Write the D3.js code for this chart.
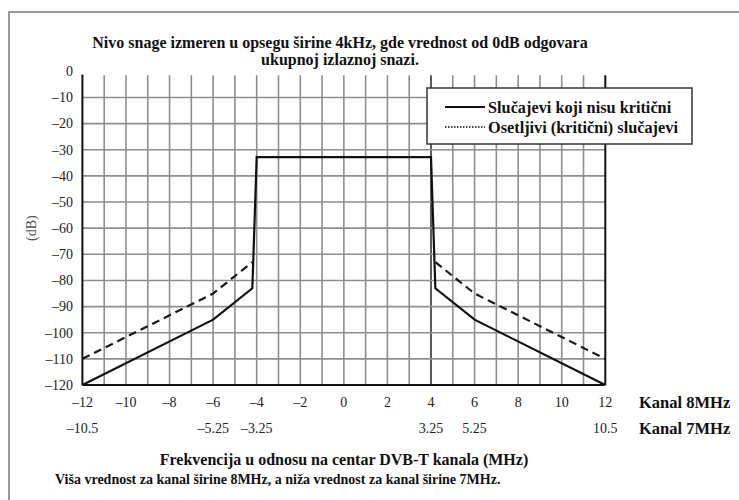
<!DOCTYPE html>
<html><head><meta charset="utf-8">
<script src="https://cdn.jsdelivr.net/npm/d3@7/dist/d3.min.js"></script>
<style>
html,body{margin:0;padding:0;background:#fff;}
svg{display:block;}
text{font-family:"Liberation Serif","Times New Roman",serif;}
</style></head>
<body><svg id="c" width="739" height="500"></svg>
<script>
// ---- data ----
const titleLines = ["Nivo snage izmeren u opsegu širine 4kHz, gde vrednost od 0dB odgovara", "ukupnoj izlaznoj snazi."];
const yTicks = [0,-10,-20,-30,-40,-50,-60,-70,-80,-90,-100,-110,-120];
const xTicks8 = [-12,-10,-8,-6,-4,-2,0,2,4,6,8,10,12];
const xTicks7Pos = [-12,-6,-4,4,6,12];
const xTicks7Lab = ["\u201310.5","\u20135.25","\u20133.25","3.25","5.25","10.5"];
const nonCriticalX = [-12,-6,-4.2,-4,4,4.2,6,12];
const nonCriticalY = [-120,-95,-83,-32.8,-32.8,-83,-95,-120];
const criticalLeftX = [-12,-6,-4.2];
const criticalLeftY = [-110,-85,-73];
const criticalRightX = [4.2,6,12];
const criticalRightY = [-73,-85,-110];
const legendLabels = ["Slučajevi koji nisu kritični","Osetljivi (kritični) slučajevi"];
const channelLabels = ["Kanal 8MHz","Kanal 7MHz"];
const xTitle = "Frekvencija u odnosu na centar DVB-T kanala (MHz)";
const footnote = "Viša vrednost za kanal širine 8MHz, a niža vrednost za kanal širine 7MHz.";
const yTitle = "(dB)";

// ---- drawing ----
const svg = d3.select("#c");
const x = d3.scaleLinear().domain([-12,12]).range([82.4,605.3]);
const y = d3.scaleLinear().domain([0,-120]).range([71.3,385]);

// frame
svg.append("rect").attr("x",9).attr("y",12).attr("width",760).attr("height",520)
  .attr("fill","none").attr("stroke","#777").attr("stroke-width",1.5);

// title
svg.selectAll("text.title").data(titleLines).enter().append("text")
  .attr("x",340).attr("y",(d,i)=>48+i*17).attr("text-anchor","middle")
  .attr("font-size",16).attr("font-weight","bold").attr("fill","#111").text(d=>d);

const gridTop = y(-1.5);
// vertical grid
const vGrid = d3.range(-11,12);
svg.append("g").selectAll("line").data(vGrid).enter().append("line")
  .attr("x1",d=>x(d)).attr("x2",d=>x(d)).attr("y1",gridTop).attr("y2",y(-120))
  .attr("stroke",d=>d===4?"#333":"#8e8e8e").attr("stroke-width",1.6);
// horizontal grid
svg.append("g").selectAll("line").data(yTicks.filter(v=>v<0&&v>-120)).enter().append("line")
  .attr("x1",x(-12)).attr("x2",x(12)).attr("y1",d=>y(d)).attr("y2",d=>y(d))
  .attr("stroke","#8e8e8e").attr("stroke-width",1.6);

// axes lines
svg.append("line").attr("x1",x(-12)).attr("x2",x(-12)).attr("y1",y(-1.2)).attr("y2",y(-120))
  .attr("stroke","#111").attr("stroke-width",2);
svg.append("line").attr("x1",x(12)).attr("x2",x(12)).attr("y1",gridTop).attr("y2",y(-120))
  .attr("stroke","#111").attr("stroke-width",2);
svg.append("line").attr("x1",x(-12)).attr("x2",x(12)).attr("y1",y(-120)).attr("y2",y(-120))
  .attr("stroke","#111").attr("stroke-width",2);

// y tick labels
svg.append("g").selectAll("text").data(yTicks).enter().append("text")
  .attr("x",73).attr("y",d=>y(d)).attr("dy","0.35em").attr("text-anchor","end")
  .attr("font-size",14).attr("fill","#222")
  .text(d=>d===0?"0":"\u2013"+Math.abs(d));

// y title
svg.append("text").attr("transform","translate(36,"+y(-60)+") rotate(-90)")
  .attr("text-anchor","middle").attr("font-size",14).attr("fill","#555").text(yTitle);

// x labels row 1
svg.append("g").selectAll("text").data(xTicks8).enter().append("text")
  .attr("x",d=>x(d)).attr("y",402).attr("dy","0.35em").attr("text-anchor","middle")
  .attr("font-size",14).attr("fill","#222")
  .text(d=>d<0?"\u2013"+Math.abs(d):String(d));
// x labels row 2
svg.append("g").selectAll("text").data(xTicks7Pos).enter().append("text")
  .attr("x",d=>x(d)).attr("y",428).attr("dy","0.35em").attr("text-anchor","middle")
  .attr("font-size",14).attr("fill","#222")
  .text((d,i)=>xTicks7Lab[i]);

// channel labels
svg.append("g").selectAll("text").data(channelLabels).enter().append("text")
  .attr("x",639).attr("y",(d,i)=>402+i*26).attr("dy","0.35em")
  .attr("font-size",16.5).attr("font-weight","bold").attr("fill","#111").text(d=>d);

// x title & footnote
svg.append("text").attr("x",344).attr("y",465).attr("text-anchor","middle")
  .attr("font-size",16).attr("font-weight","bold").attr("fill","#111").text(xTitle);
svg.append("text").attr("x",55).attr("y",484)
  .attr("font-size",14).attr("font-weight","bold").attr("fill","#111").text(footnote);

// data lines
const line = d3.line().x(d=>x(d[0])).y(d=>y(d[1]));
svg.append("path").datum(nonCriticalX.map((v,i)=>[v,nonCriticalY[i]]))
  .attr("d",line).attr("fill","none").attr("stroke","#111").attr("stroke-width",2.2)
  .attr("stroke-linejoin","miter");
svg.append("path").datum(criticalLeftX.map((v,i)=>[v,criticalLeftY[i]]))
  .attr("d",line).attr("fill","none").attr("stroke","#1a1a1a").attr("stroke-width",2.2)
  .attr("stroke-dasharray","8,5");
svg.append("path").datum(criticalRightX.map((v,i)=>[v,criticalRightY[i]]))
  .attr("d",line).attr("fill","none").attr("stroke","#1a1a1a").attr("stroke-width",2.2)
  .attr("stroke-dasharray","8,5");

// legend
const lg = svg.append("g");
lg.append("rect").attr("x",427).attr("y",88).attr("width",265).attr("height",56)
  .attr("fill","#fff").attr("stroke","#333").attr("stroke-width",1.5);
lg.append("line").attr("x1",445).attr("x2",485).attr("y1",107).attr("y2",107)
  .attr("stroke","#111").attr("stroke-width",1.8);
lg.append("line").attr("x1",445).attr("x2",485).attr("y1",127).attr("y2",127)
  .attr("stroke","#111").attr("stroke-width",1.3).attr("stroke-dasharray","1.5,1.5");
lg.selectAll("text").data(legendLabels).enter().append("text")
  .attr("x",488).attr("y",(d,i)=>107+i*20).attr("dy","0.35em")
  .attr("font-size",16.3).attr("font-weight","bold").attr("fill","#111").text(d=>d);
</script></body></html>
